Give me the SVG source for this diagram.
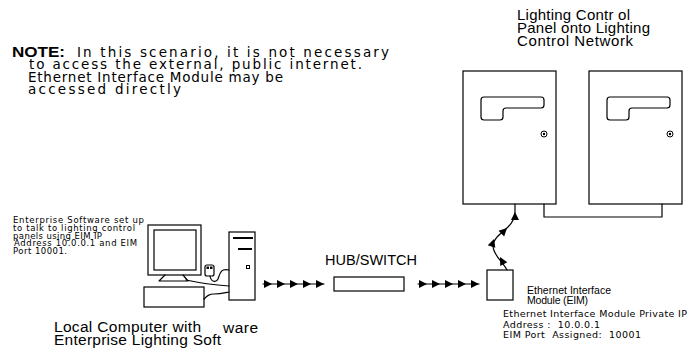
<svg xmlns="http://www.w3.org/2000/svg" xmlns:xlink="http://www.w3.org/1999/xlink" width="691" height="361" viewBox="0 0 691 361">
  <style>
    .ln { fill: none; stroke: #000; stroke-width: 1.2; stroke-linejoin: round; stroke-linecap: round; }
    .box { fill: #fff; stroke: #000; stroke-width: 1.2; }
    .cad { font-family: "DejaVu Sans", "Liberation Sans", sans-serif; fill: #000; white-space: pre; }
    .sans { font-family: "Liberation Sans", Arial, sans-serif; fill: #000; }
    .bold { font-family: "Liberation Sans", Arial, sans-serif; font-weight: bold; fill: #000; }
  </style>
  <defs>
    <!-- filled arrowhead, tip at origin, pointing along +x -->
    <path id="ah" d="M0,0 L-8,-4 L-8,4 Z" fill="#000"/>
  </defs>

  <rect width="691" height="361" fill="#fff"/>

  <!-- note -->
  <g id="note">
    <text class="bold" x="12" y="56.5" font-size="14" textLength="53" lengthAdjust="spacingAndGlyphs">NOTE:</text>
    <text class="cad" x="77" y="56.5" font-size="13.5" textLength="312">In this scenario, it is not necessary</text>
    <text class="cad" x="29" y="69" font-size="13.5" textLength="333">to access the external, public internet.</text>
    <text class="cad" x="28" y="81.5" font-size="13.5" textLength="255">Ethernet Interface Module may be</text>
    <text class="cad" x="28" y="94" font-size="13.5" textLength="153">accessed directly</text>
  </g>

  <!-- panel title -->
  <g id="panel-title">
    <text class="sans" x="517" y="19.5" font-size="15" textLength="113">Lighting Contr ol</text>
    <text class="sans" x="517" y="32.5" font-size="15" textLength="133">Panel onto Lighting</text>
    <text class="sans" x="517" y="45.5" font-size="15" textLength="116">Control Network</text>
  </g>

  <!-- lighting control panel 1 -->
  <g id="panel-1">
    <rect class="box" x="463" y="71" width="93" height="133"/>
    <path class="ln" d="M484,97 H541 Q544,97 544,100 V105 Q544,108 541,108 H506 Q503,108 503,111 V117 Q503,120 500,120 H484 Q481,120 481,117 V100 Q481,97 484,97 Z"/>
    <circle cx="544" cy="134" r="3" fill="none" stroke="#000" stroke-width="1"/>
    <circle cx="544" cy="134" r="1.2" fill="#000"/>
  </g>

  <!-- lighting control panel 2 -->
  <g id="panel-2">
    <rect class="box" x="589" y="71" width="93" height="133"/>
    <path class="ln" d="M610,97 H667 Q670,97 670,100 V105 Q670,108 667,108 H632 Q629,108 629,111 V117 Q629,120 626,120 H610 Q607,120 607,117 V100 Q607,97 610,97 Z"/>
    <circle cx="670" cy="134" r="3" fill="none" stroke="#000" stroke-width="1"/>
    <circle cx="670" cy="134" r="1.2" fill="#000"/>
  </g>

  <!-- local computer -->
  <g id="computer">
    <!-- monitor -->
    <rect class="box" x="148" y="225" width="53" height="50"/>
    <rect class="box" x="154" y="230" width="42" height="40"/>
    <path class="ln" d="M165,275 L159,281 H188 L183,275"/>
    <!-- keyboard -->
    <rect class="box" x="144" y="287" width="60" height="20"/>
    <!-- tower -->
    <rect class="box" x="229" y="232" width="26" height="68"/>
    <line x1="233" y1="238" x2="253" y2="238" stroke="#000" stroke-width="2"/>
    <line x1="238" y1="249" x2="252" y2="249" stroke="#000" stroke-width="2"/>
    <rect x="246.5" y="265.5" width="3" height="3" fill="none" stroke="#000" stroke-width="1"/>
    <!-- mouse -->
    <rect class="box" x="205" y="265" width="9" height="11" rx="2"/>
    <rect x="206.5" y="266.5" width="2.5" height="2.5" fill="#000"/>
    <rect x="210" y="266.5" width="2.5" height="2.5" fill="#000"/>
    <!-- cables -->
    <path class="ln" d="M186,280 C200,283 215,285 229,286"/>
    <path class="ln" d="M210,276 C211,282 216,283 218,279 C220,273 221,268 229,270"/>
    <path class="ln" d="M204,299 C207,296 209,294 214,294 C220,294 224,293 229,292"/>
  </g>

  <!-- hub / switch -->
  <g id="hub-switch">
    <text class="sans" x="325" y="265" font-size="14.5" textLength="92">HUB/SWITCH</text>
    <rect class="box" x="334" y="277" width="70" height="14"/>
  </g>

  <!-- ethernet interface module -->
  <g id="eim">
    <rect class="box" x="487" y="270" width="26" height="30"/>
    <text class="sans" x="527" y="294" font-size="10.5" textLength="84">Ethernet Interface</text>
    <text class="sans" x="527" y="303.5" font-size="10.5" textLength="61">Module (EIM)</text>
    <text class="cad" x="503" y="317" font-size="9.5" textLength="184">Ethernet Interface Module Private IP</text>
    <text class="cad" x="503" y="327.5" font-size="9.5" textLength="97">Address :  10.0.0.1</text>
    <text class="cad" x="503" y="338" font-size="9.5" textLength="138">EIM Port  Assigned:  10001</text>
  </g>

  <!-- software notes -->
  <g id="software-note">
    <text class="cad" x="13" y="223" font-size="8.5" textLength="131">Enterprise Software set up</text>
    <text class="cad" x="13" y="230.8" font-size="8.5" textLength="122">to talk to lighting control</text>
    <text class="cad" x="13" y="238.5" font-size="8.5" textLength="89">panels using EIM IP</text>
    <text class="cad" x="14" y="246.2" font-size="8.5" textLength="123">Address 10.0.0.1 and EIM</text>
    <text class="cad" x="13" y="254" font-size="8.5" textLength="54">Port 10001.</text>
  </g>

  <g id="computer-label">
    <text class="sans" x="54" y="332" font-size="15.5" textLength="147">Local Computer with</text>
    <text class="sans" x="54" y="345" font-size="15.5" textLength="167">Enterprise Lighting Soft</text>
    <text class="sans" x="223" y="333" font-size="15.5" textLength="35">ware</text>
  </g>

  <!-- connectors -->
  <g id="connectors">
    <!-- computer to hub -->
    <line class="ln" x1="263" y1="284" x2="324" y2="284"/>
    <use xlink:href="#ah" href="#ah" transform="translate(272,284)"/>
    <use xlink:href="#ah" href="#ah" transform="translate(285,284)"/>
    <use xlink:href="#ah" href="#ah" transform="translate(298,284)"/>
    <use xlink:href="#ah" href="#ah" transform="translate(311,284)"/>
    <use xlink:href="#ah" href="#ah" transform="translate(324,284)"/>
    <!-- hub to EIM -->
    <line class="ln" x1="418" y1="284" x2="479" y2="284"/>
    <use xlink:href="#ah" href="#ah" transform="translate(427,284)"/>
    <use xlink:href="#ah" href="#ah" transform="translate(440,284)"/>
    <use xlink:href="#ah" href="#ah" transform="translate(453,284)"/>
    <use xlink:href="#ah" href="#ah" transform="translate(466,284)"/>
    <use xlink:href="#ah" href="#ah" transform="translate(479,284)"/>
    <!-- EIM to panel 1 -->
    <path class="ln" d="M507,270 C503,262 493,255 493,246 C493,238 503,232 508,227 C513,222 515,218 515,212 L515,204"/>
    <use xlink:href="#ah" href="#ah" transform="translate(500,257) rotate(-118)"/>
    <use xlink:href="#ah" href="#ah" transform="translate(494,239) rotate(-72)"/>
    <use xlink:href="#ah" href="#ah" transform="translate(507,228) rotate(-45)"/>
    <use xlink:href="#ah" href="#ah" transform="translate(515,212) rotate(-90)"/>
    <!-- panel 1 to panel 2 -->
    <path class="ln" d="M544,204 V217 H662 V204"/>
  </g>
</svg>
